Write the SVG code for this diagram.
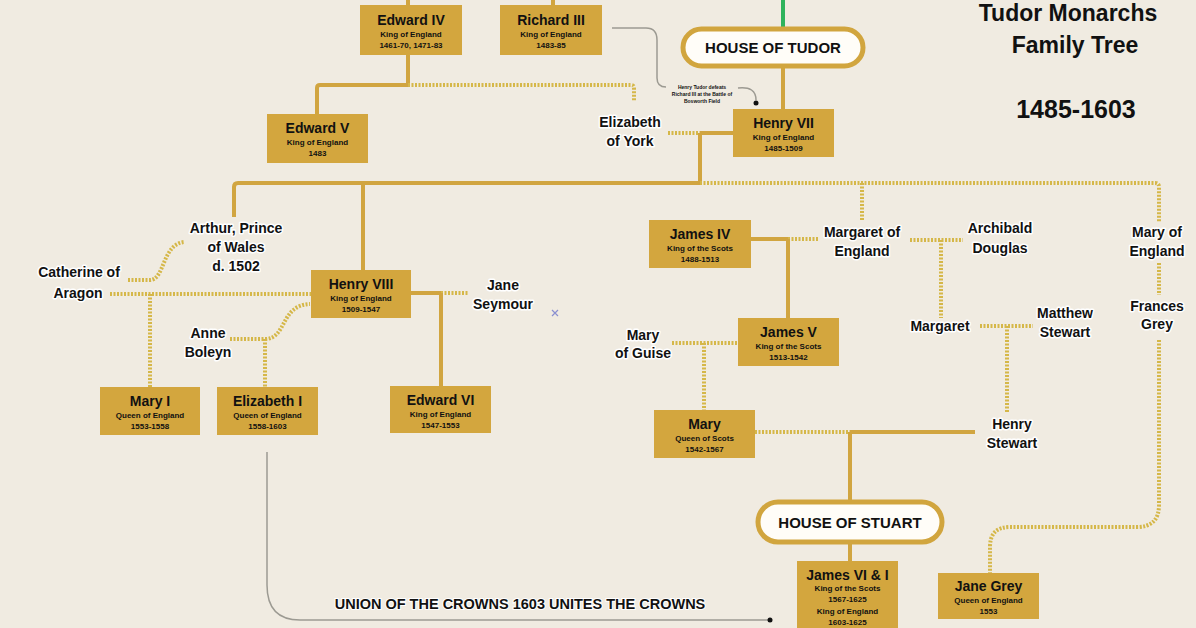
<svg xmlns="http://www.w3.org/2000/svg" width="1196" height="628" viewBox="0 0 1196 628">
<style>
.bg{fill:#f0ebe1}
.box{fill:#d3a63e}
.pill{fill:#fffdf8;stroke:#d1a53e;stroke-width:5}
.sl{fill:none;stroke:#d1a540;stroke-width:4;stroke-linejoin:round}
.dl{fill:none;stroke:#d5b748;stroke-width:4;stroke-dasharray:2 1.5}
.gl{fill:none;stroke:#9c9a92;stroke-width:1.5}
text{font-family:"Liberation Sans",Arial,sans-serif;text-anchor:middle;fill:#111}
.nm{font-size:14px;font-weight:bold}
.sb{font-size:8px;font-weight:bold}
.lb{font-size:14px;font-weight:bold;stroke:#fff;stroke-width:3;paint-order:stroke;stroke-linejoin:round}
.pt{font-size:15px;font-weight:bold}
.ti{font-size:23px;font-weight:bold}
.yr{font-size:25px;font-weight:bold}
.an{font-size:5px;font-weight:bold}
.un{font-size:14.5px;font-weight:bold;stroke:#fff;stroke-width:2;paint-order:stroke}
</style>
<rect class="bg" x="0" y="0" width="1196" height="628"/>

<g id="connectors">
  <path class="sl" d="M408 0V5"/>
  <path class="sl" d="M553 0V5"/>
  <path d="M783 0V28" fill="none" stroke="#2fb35c" stroke-width="4"/>
  <path class="sl" d="M783 66V110"/>
  <path class="sl" d="M408 55V85H320Q317 85 317 88V115"/>
  <path class="dl" d="M408 85H631Q634 85 634 88V101"/>
  <path class="dl" d="M668 133H700"/>
  <path class="sl" d="M700 133H733"/>
  <path class="sl" d="M700 133V183"/>
  <path class="sl" d="M700 183H238Q234 183 234 187V217"/>
  <path class="dl" d="M700 183H1155Q1159 183 1159 187V222"/>
  <path class="sl" d="M363 183V270"/>
  <path class="dl" d="M110 294H311"/>
  <path class="dl" d="M128 280H150C165 280 162 243 185 242"/>
  <path class="dl" d="M150 294V387"/>
  <path class="dl" d="M230 339H265"/>
  <path class="dl" d="M265 339C287 339 280 305 310 304"/>
  <path class="dl" d="M265 339V387"/>
  <path class="sl" d="M410 293H441"/>
  <path class="dl" d="M441 293H469"/>
  <path class="sl" d="M441 293V387"/>
  <path class="dl" d="M862 183V220"/>
  <path class="sl" d="M751 239H788"/>
  <path class="dl" d="M788 239H818"/>
  <path class="sl" d="M788 239V318"/>
  <path class="dl" d="M672 343H738"/>
  <path class="dl" d="M704 343V410"/>
  <path class="dl" d="M755 432H850"/>
  <path class="sl" d="M850 432H975"/>
  <path class="sl" d="M850 432V502"/>
  <path class="sl" d="M850 542V561"/>
  <path class="dl" d="M910 240H963"/>
  <path class="dl" d="M941 240V318"/>
  <path class="dl" d="M980 326H1033"/>
  <path class="dl" d="M1007 326V412"/>
  <path class="dl" d="M1159 263V295"/>
  <path class="dl" d="M1159 340V505Q1159 527 1137 527H1010Q990 527 990 547V573"/>
  <path class="gl" d="M612 28H646Q657 28 657 40V78Q657 87 666 87"/>
  <path class="gl" d="M738 88Q756 86 756 100"/>
  <circle cx="756" cy="103" r="2.5" fill="#111"/>
  <path class="gl" d="M267 452V585Q267 620 300 620H770"/>
  <circle cx="770" cy="620" r="2.5" fill="#111"/>
</g>

<g id="house-tudor">
  <rect class="pill" x="683" y="29" width="180" height="37" rx="18.5"/>
  <text class="pt" x="773" y="53">HOUSE OF TUDOR</text>
</g>
<g id="house-stuart">
  <rect class="pill" x="758" y="502" width="184" height="40" rx="20"/>
  <text class="pt" x="850" y="528">HOUSE OF STUART</text>
</g>

<g id="edward-iv"><rect class="box" x="360" y="5" width="102" height="50"/>
  <text class="nm" x="411" y="25">Edward IV</text><text class="sb" x="411" y="37">King of England</text><text class="sb" x="411" y="48">1461-70, 1471-83</text></g>
<g id="richard-iii"><rect class="box" x="500" y="5" width="102" height="50"/>
  <text class="nm" x="551" y="25">Richard III</text><text class="sb" x="551" y="37">King of England</text><text class="sb" x="551" y="48">1483-85</text></g>
<g id="edward-v"><rect class="box" x="267" y="114" width="101" height="49"/>
  <text class="nm" x="317.5" y="133">Edward V</text><text class="sb" x="317.5" y="145">King of England</text><text class="sb" x="317.5" y="156">1483</text></g>
<g id="henry-vii"><rect class="box" x="733" y="109" width="101" height="48"/>
  <text class="nm" x="783.5" y="128">Henry VII</text><text class="sb" x="783.5" y="140">King of England</text><text class="sb" x="783.5" y="151">1485-1509</text></g>
<g id="henry-viii"><rect class="box" x="311" y="270" width="100" height="48"/>
  <text class="nm" x="361" y="289">Henry VIII</text><text class="sb" x="361" y="301">King of England</text><text class="sb" x="361" y="312">1509-1547</text></g>
<g id="mary-i"><rect class="box" x="100" y="387" width="100" height="48"/>
  <text class="nm" x="150" y="406">Mary I</text><text class="sb" x="150" y="418">Queen of England</text><text class="sb" x="150" y="429">1553-1558</text></g>
<g id="elizabeth-i"><rect class="box" x="217" y="387" width="101" height="48"/>
  <text class="nm" x="267.5" y="406">Elizabeth I</text><text class="sb" x="267.5" y="418">Queen of England</text><text class="sb" x="267.5" y="429">1558-1603</text></g>
<g id="edward-vi"><rect class="box" x="390" y="386" width="101" height="47"/>
  <text class="nm" x="440.5" y="405">Edward VI</text><text class="sb" x="440.5" y="417">King of England</text><text class="sb" x="440.5" y="428">1547-1553</text></g>
<g id="james-iv"><rect class="box" x="649" y="220" width="102" height="48"/>
  <text class="nm" x="700" y="239">James IV</text><text class="sb" x="700" y="251">King of the Scots</text><text class="sb" x="700" y="262">1488-1513</text></g>
<g id="james-v"><rect class="box" x="738" y="318" width="101" height="48"/>
  <text class="nm" x="788.5" y="337">James V</text><text class="sb" x="788.5" y="349">King of the Scots</text><text class="sb" x="788.5" y="360">1513-1542</text></g>
<g id="mary-scots"><rect class="box" x="654" y="410" width="101" height="48"/>
  <text class="nm" x="704.5" y="429">Mary</text><text class="sb" x="704.5" y="441">Queen of Scots</text><text class="sb" x="704.5" y="452">1542-1567</text></g>
<g id="jane-grey"><rect class="box" x="938" y="573" width="101" height="46"/>
  <text class="nm" x="988.5" y="591">Jane Grey</text><text class="sb" x="988.5" y="603">Queen of England</text><text class="sb" x="988.5" y="614">1553</text></g>
<g id="james-vi-i"><rect class="box" x="797" y="561" width="101" height="72"/>
  <text class="nm" x="847.5" y="580">James VI &amp; I</text><text class="sb" x="847.5" y="591">King of the Scots</text><text class="sb" x="847.5" y="602">1567-1625</text><text class="sb" x="847.5" y="614">King of England</text><text class="sb" x="847.5" y="625">1603-1625</text></g>

<g id="elizabeth-york"><text class="lb" x="630" y="127">Elizabeth</text><text class="lb" x="630" y="146">of York</text></g>
<g id="arthur"><text class="lb" x="236" y="233">Arthur, Prince</text><text class="lb" x="236" y="252">of Wales</text><text class="lb" x="236" y="271">d. 1502</text></g>
<g id="catherine"><text class="lb" x="79" y="277">Catherine of</text><text class="lb" x="78" y="298">Aragon</text></g>
<g id="anne-boleyn"><text class="lb" x="208" y="338">Anne</text><text class="lb" x="208" y="357">Boleyn</text></g>
<g id="jane-seymour"><text class="lb" x="503" y="290">Jane</text><text class="lb" x="503" y="309">Seymour</text></g>
<g id="margaret-england"><text class="lb" x="862" y="237">Margaret of</text><text class="lb" x="862" y="256">England</text></g>
<g id="archibald"><text class="lb" x="1000" y="233">Archibald</text><text class="lb" x="1000" y="253">Douglas</text></g>
<g id="mary-england"><text class="lb" x="1157" y="237">Mary of</text><text class="lb" x="1157" y="256">England</text></g>
<g id="frances-grey"><text class="lb" x="1157" y="311">Frances</text><text class="lb" x="1157" y="329">Grey</text></g>
<g id="mary-guise"><text class="lb" x="643" y="340">Mary</text><text class="lb" x="643" y="358">of Guise</text></g>
<g id="margaret"><text class="lb" x="940" y="331">Margaret</text></g>
<g id="matthew-stewart"><text class="lb" x="1065" y="318">Matthew</text><text class="lb" x="1065" y="337">Stewart</text></g>
<g id="henry-stewart"><text class="lb" x="1012" y="429">Henry</text><text class="lb" x="1012" y="448">Stewart</text></g>

<g id="annotation"><text class="an" x="702" y="89">Henry Tudor defeats</text><text class="an" x="702" y="96">Richard III at the Battle of</text><text class="an" x="702" y="103">Bosworth Field</text></g>
<g id="union"><text class="un" x="520" y="609">UNION OF THE CROWNS 1603 UNITES THE CROWNS</text></g>
<g id="marker"><path d="M552 310L558 316M558 310L552 316" stroke="#8a8fd0" stroke-width="1.2"/></g>

<g id="title">
  <text class="ti" x="1068" y="21">Tudor Monarchs</text>
  <text class="ti" x="1075" y="53">Family Tree</text>
  <text class="yr" x="1076" y="118">1485-1603</text>
</g>
</svg>
